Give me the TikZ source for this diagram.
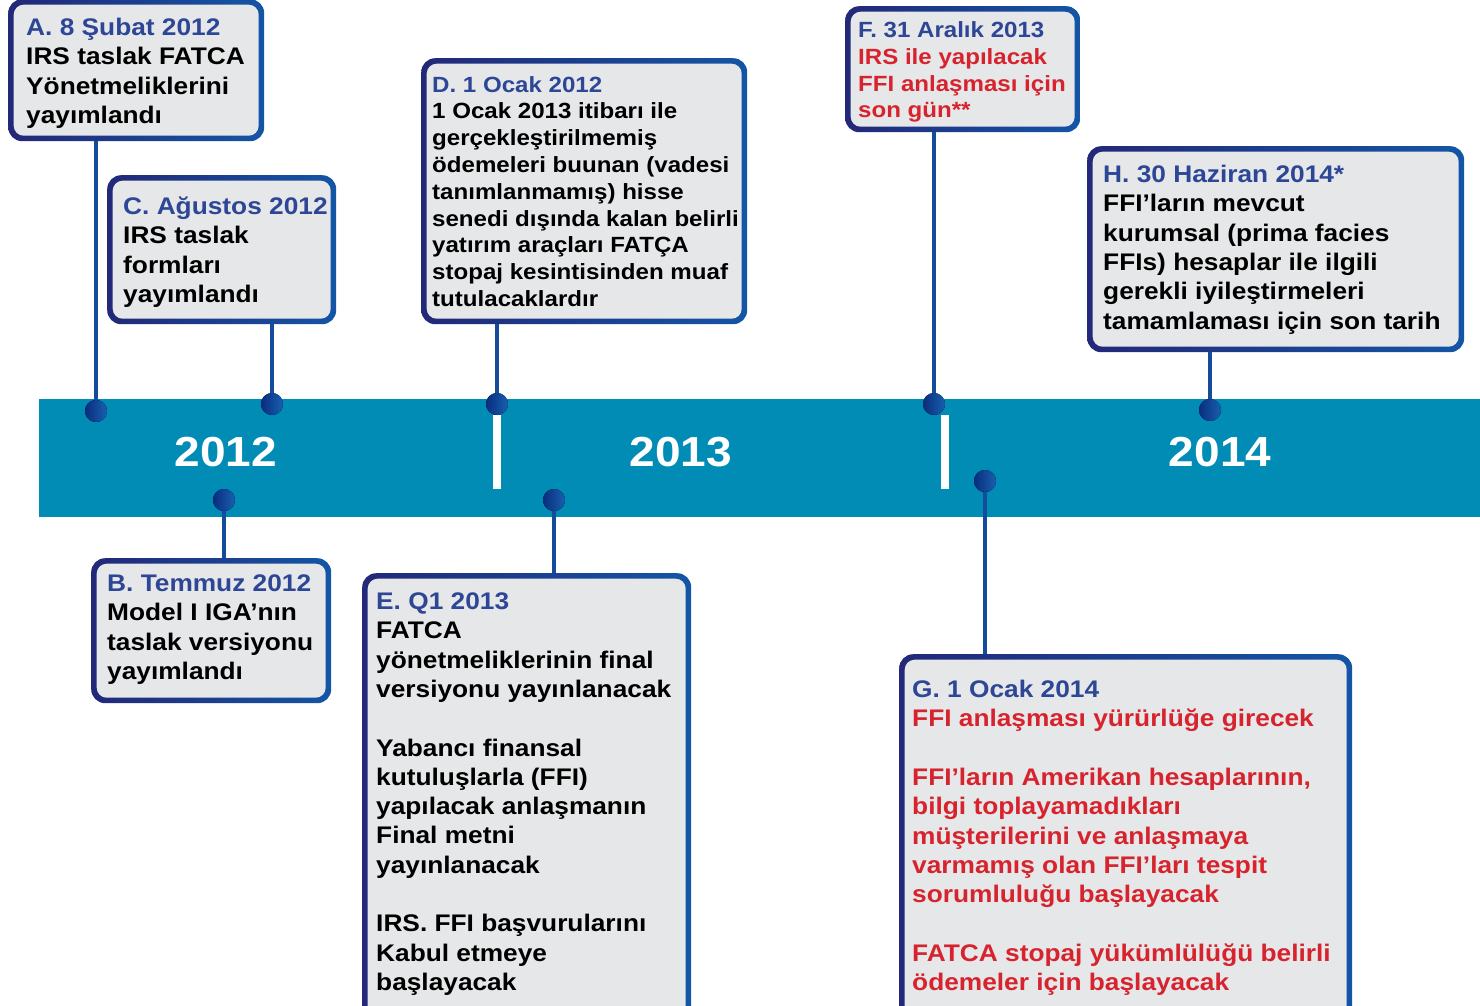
\documentclass[tikz,border=0pt]{standalone}
\usepackage{fontspec}
\setmainfont{Liberation Sans}[FakeStretch=1.095]
\definecolor{band}{RGB}{0,140,181}
\definecolor{boxgray}{RGB}{230,231,232}
\definecolor{navy}{RGB}{35,40,120}
\definecolor{cyanb}{RGB}{0,170,225}
\definecolor{rimblue}{RGB}{20,85,165}
\definecolor{titleblue}{RGB}{45,70,150}
\definecolor{redtxt}{RGB}{215,35,45}
\definecolor{linkblue}{RGB}{20,75,155}
\definecolor{dotdark}{RGB}{10,45,125}
\definecolor{dotlight}{RGB}{25,95,175}
\begin{document}
\begin{tikzpicture}[x=1pt,y=-1pt,
  card/.style={anchor=north west, inner sep=0, draw=none, rounded corners=14pt,
    path picture={
      \shade[left color=navy, middle color=cyanb, right color=rimblue]
        (path picture bounding box.south west) rectangle (path picture bounding box.north east);
      \fill[boxgray, rounded corners=10pt]
        ([shift={(5.5,5.5)}]path picture bounding box.north west) rectangle
        ([shift={(-5.5,-5.5)}]path picture bounding box.south east);
    }},
  txt/.style={anchor=base west, inner sep=0, align=left,
    font=\bfseries\fontsize{24}{29.3}\selectfont},
  smalltxt/.style={txt, font=\bfseries\fontsize{22}{26.8}\selectfont},
  year/.style={text=white, inner sep=0, font=\bfseries\fontsize{42}{48}\selectfont},
  dot/.style={circle, minimum size=22pt, inner sep=0, left color=dotdark, right color=dotlight},
  link/.style={draw=linkblue, line width=4.5pt},
  divider/.style={fill=white, draw=none, inner sep=0, minimum width=8pt, minimum height=74pt}
]
\clip (0,0) rectangle (1480,1006);
\fill[white] (0,0) rectangle (1480,1006);

% band
\node[fill=band, draw=none, inner sep=0, anchor=north west, minimum width=1445pt, minimum height=118pt] (band) at (39,399) {};
\node[divider] (div1) at (497,452) {};
\node[divider] (div2) at (945,452) {};
\node[year] (y12) at (226,452) {2012};
\node[year] (y13) at (681,452) {2013};
\node[year] (y14) at (1220,452) {2014};

% boxes
\node[card, minimum width=256pt, minimum height=142pt] (bA) at (8,-1) {};
\node[card, minimum width=229pt, minimum height=149pt] (bC) at (107,175) {};
\node[card, minimum width=240pt, minimum height=145pt] (bB) at (91,558) {};
\node[card, minimum width=326pt, minimum height=266pt] (bD) at (421,58) {};
\node[card, minimum width=329pt, minimum height=460pt] (bE) at (362,573) {};
\node[card, minimum width=235pt, minimum height=126pt] (bF) at (845,6) {};
\node[card, minimum width=453pt, minimum height=380pt] (bG) at (899,654) {};
\node[card, minimum width=377pt, minimum height=206pt] (bH) at (1087,146) {};

% dots
\node[dot] (dA) at (96,411) {};
\node[dot] (dC) at (272,404) {};
\node[dot] (dB) at (224,500) {};
\node[dot] (dD) at (497,404) {};
\node[dot] (dE) at (554,500) {};
\node[dot] (dF) at (934,404) {};
\node[dot] (dG) at (985,481) {};
\node[dot] (dH) at (1210,410) {};

% connectors
\draw[link] (dA |- bA.south) -- (dA.center);
\draw[link] (dC |- bC.south) -- (dC.center);
\draw[link] (dB.center) -- (dB |- bB.north);
\draw[link] (dD |- bD.south) -- (dD.center);
\draw[link] (dE.center) -- (dE |- bE.north);
\draw[link] (dF |- bF.south) -- (dF.center);
\draw[link] (dG.center) -- (dG |- bG.north);
\draw[link] (dH |- bH.south) -- (dH.center);
% dots back on top of the connectors
\foreach \d in {dA,dC,dB,dD,dE,dF,dG,dH}
  \fill[left color=dotdark, right color=dotlight] (\d) circle (11pt);

% texts (base anchor = baseline of the last line)
\node[txt] (tA) at (26,123.4) {\textcolor{titleblue}{A. 8 Şubat 2012}\\IRS taslak FATCA\\Yönetmeliklerini\\yayımlandı};
\node[txt] (tC) at (123,302.4) {\textcolor{titleblue}{C. Ağustos 2012}\\IRS taslak\\formları\\yayımlandı};
\node[txt] (tB) at (107,679.4) {\textcolor{titleblue}{B. Temmuz 2012}\\Model I IGA’nın\\taslak versiyonu\\yayımlandı};
\node[smalltxt] (tD) at (432,306.4) {\textcolor{titleblue}{D. 1 Ocak 2012}\\1 Ocak 2013 itibarı ile\\gerçekleştirilmemiş\\ödemeleri buunan (vadesi\\tanımlanmamış) hisse\\senedi dışında kalan belirli\\yatırım araçları FATÇA\\stopaj kesintisinden muaf\\tutulacaklardır};
\node[txt] (tE) at (376,990.4) {\textcolor{titleblue}{E. Q1 2013}\\FATCA\\yönetmeliklerinin final\\versiyonu yayınlanacak\\[29.3pt]Yabancı finansal\\kutuluşlarla (FFI)\\yapılacak anlaşmanın\\Final metni\\yayınlanacak\\[29.3pt]IRS. FFI başvurularını\\Kabul etmeye\\başlayacak};
\node[smalltxt, text=redtxt] (tF) at (858,117.9) {\textcolor{titleblue}{F. 31 Aralık 2013}\\IRS ile yapılacak\\FFI anlaşması için\\son gün**};
\node[txt, text=redtxt] (tG) at (912,990.5) {\textcolor{titleblue}{G. 1 Ocak 2014}\\FFI anlaşması yürürlüğe girecek\\[29.3pt]FFI’ların Amerikan hesaplarının,\\bilgi toplayamadıkları\\müşterilerini ve anlaşmaya\\varmamış olan FFI’ları tespit\\sorumluluğu başlayacak\\[29.3pt]FATCA stopaj yükümlülüğü belirli\\ödemeler için başlayacak};
\node[txt] (tH) at (1103,329) {\textcolor{titleblue}{H. 30 Haziran 2014*}\\FFI’ların mevcut\\kurumsal (prima facies\\FFIs) hesaplar ile ilgili\\gerekli iyileştirmeleri\\tamamlaması için son tarih};
\end{tikzpicture}
\end{document}
